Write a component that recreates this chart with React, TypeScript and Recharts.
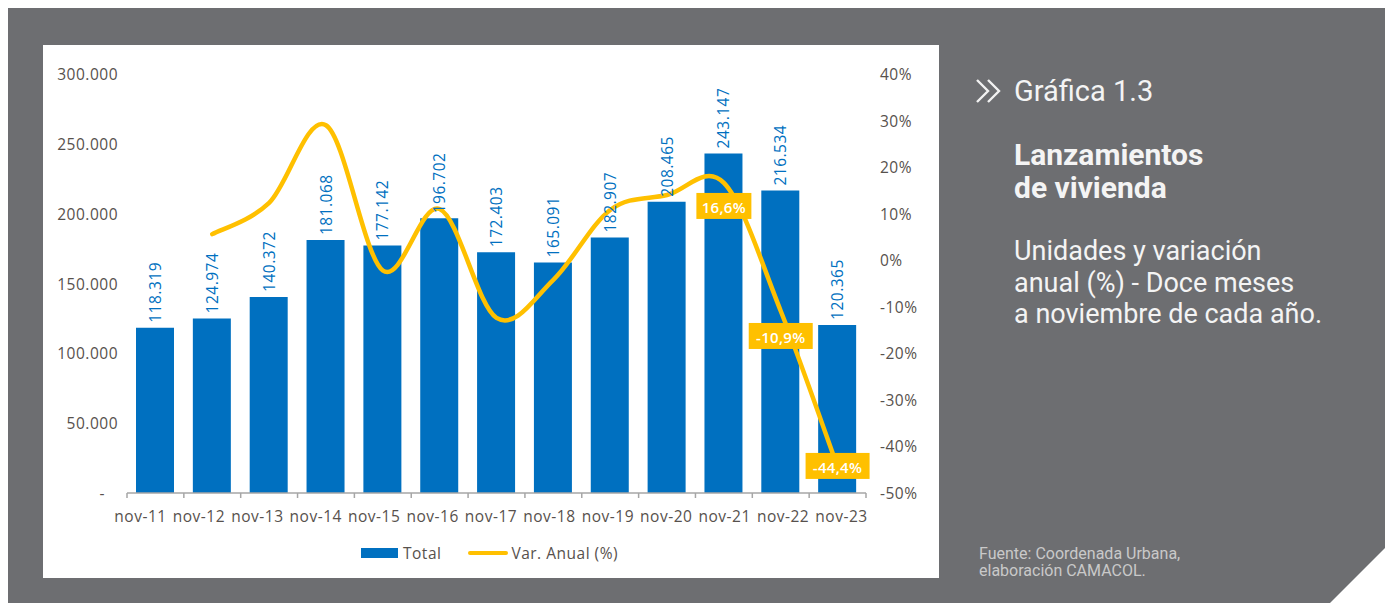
import { ComposedChart, Bar, Line, XAxis, YAxis, LabelList } from 'recharts'

const categories = ['nov-11', 'nov-12', 'nov-13', 'nov-14', 'nov-15', 'nov-16', 'nov-17', 'nov-18', 'nov-19', 'nov-20', 'nov-21', 'nov-22', 'nov-23']
const totals = [118319, 124974, 140372, 181068, 177142, 196702, 172403, 165091, 182907, 208465, 243147, 216534, 120365]
const annualVar = [null, 5.6, 12.3, 29.0, -2.2, 11.0, -12.4, -4.2, 10.8, 14.0, 16.6, -10.9, -44.4]
const unitTicks = [0, 50000, 100000, 150000, 200000, 250000, 300000]
const pctTicks = [-50, -40, -30, -20, -10, 0, 10, 20, 30, 40]
const labelledMonths = ['nov-21', 'nov-22', 'nov-23']

const data = categories.map((month, i) => ({ month, total: totals[i], variation: annualVar[i] }))

const BLUE = '#0070c0'
const GOLD = '#ffc000'
const GREY_BG = '#6d6e71'
const TEXT = '#57514d'
const AXIS = '#a6a6a6'
const FONT = '"Open Sans", "DejaVu Sans", sans-serif'

const CHART_W = 896
const CHART_H = 533
const LEFT_W = 84
const RIGHT_W = 73
const BAND = (CHART_W - LEFT_W - RIGHT_W) / categories.length

const thousands = (v: number) => String(v).replace(/\B(?=(\d{3})+(?!\d))/g, '.')
const pct = (v: number) => `${v.toFixed(1).replace('.', ',')}%`

// where each highlighted % box sits relative to its point
const boxShift: Record<string, number> = { 'nov-21': 23, 'nov-22': 25, 'nov-23': -1 }

// Excel-like smoothed line (Catmull-Rom through the points)
const smooth = (ctx: any) => {
  let pts: [number, number][] = []
  return {
    areaStart() {},
    areaEnd() {},
    lineStart() {
      pts = []
    },
    point(x: number, y: number) {
      pts.push([+x, +y])
    },
    lineEnd() {
      if (!pts.length) return
      ctx.moveTo(pts[0][0], pts[0][1])
      for (let i = 0; i < pts.length - 1; i++) {
        const p0 = pts[Math.max(i - 1, 0)]
        const p1 = pts[i]
        const p2 = pts[i + 1]
        const p3 = pts[Math.min(i + 2, pts.length - 1)]
        ctx.bezierCurveTo(
          p1[0] + (p2[0] - p0[0]) / 6,
          p1[1] + (p2[1] - p0[1]) / 6,
          p2[0] - (p3[0] - p1[0]) / 6,
          p2[1] - (p3[1] - p1[1]) / 6,
          p2[0],
          p2[1],
        )
      }
    },
  }
}

const textStyle = { fontFamily: FONT, fontSize: 15.5, fill: TEXT, letterSpacing: 0.5 }

function LeftTick({ x, y, payload }: any) {
  const zero = payload.value === 0
  return (
    <text x={zero ? x - 13 : x} y={y} textAnchor="end" dominantBaseline="central" style={textStyle}>
      {zero ? '-' : thousands(payload.value)}
    </text>
  )
}

function RightTick({ x, y, payload }: any) {
  return (
    <text x={x} y={y} textAnchor="start" dominantBaseline="central" style={textStyle}>
      {`${payload.value}%`}
    </text>
  )
}

function MonthTick({ x, y, payload, index }: any) {
  const half = BAND / 2
  // the source spreads the month labels a bit wider than the bands
  const lx = x - 14.9 + index * 1.57
  return (
    <g>
      <line x1={x - half} x2={x - half} y1={y} y2={y + 5} stroke={AXIS} strokeWidth={1.5} />
      {index === categories.length - 1 && (
        <line x1={x + half} x2={x + half} y1={y} y2={y + 5} stroke={AXIS} strokeWidth={1.5} />
      )}
      <text x={lx} y={y + 23} textAnchor="middle" dominantBaseline="central" style={textStyle}>
        {payload.value}
      </text>
    </g>
  )
}

function TotalLabel({ x, y, width, value }: any) {
  const cx = x + width / 2
  const ty = y - 5
  return (
    <text
      x={cx}
      y={ty}
      transform={`rotate(-90 ${cx} ${ty})`}
      textAnchor="start"
      dominantBaseline="central"
      style={{ ...textStyle, fontSize: 15.5, fontWeight: 500, fill: BLUE }}
    >
      {thousands(value)}
    </text>
  )
}

function VarLabel({ x, y, value, index }: any) {
  const month = categories[index]
  if (!labelledMonths.includes(month) || value == null) return null
  const txt = pct(value)
  const w = txt.length * 9 + 10
  const cy = y + boxShift[month]
  return (
    <g>
      <rect x={x - w / 2} y={cy - 13} width={w} height={26} fill={GOLD} />
      <text
        x={x}
        y={cy + 1}
        textAnchor="middle"
        dominantBaseline="central"
        style={{ fontFamily: FONT, fontSize: 15, fontWeight: 600, fill: '#ffffff', letterSpacing: 0.3 }}
      >
        {txt}
      </text>
    </g>
  )
}

function Chevrons() {
  return (
    <g stroke="#f2f2f2" strokeWidth={2.4} fill="none" strokeLinejoin="miter">
      <polyline points="969,72 980,83 969,94" />
      <polyline points="980,72 991,83 980,94" />
    </g>
  )
}

export default function App() {
  return (
    <div style={{ position: 'relative', width: 1385, height: 603, marginBottom: -8 }}>
      <svg width={1385} height={603} style={{ position: 'absolute', left: 0, top: 0 }}>
        <polygon points="0,0 1385,0 1385,532 1314,603 0,603" fill={GREY_BG} />
        <Chevrons />
        <g style={{ fontFamily: 'Roboto, sans-serif' }} fill="#f4f4f4">
          <text x={1006} y={93} fontSize={29}>Gráfica 1.3</text>
          <text x={1006} y={157} fontSize={30} fontWeight={700}>Lanzamientos</text>
          <text x={1006} y={190} fontSize={30} fontWeight={700}>de vivienda</text>
          <text x={1006} y={252} fontSize={27}>Unidades y variación</text>
          <text x={1006} y={283.5} fontSize={27}>anual (%) - Doce meses</text>
          <text x={1006} y={315} fontSize={27}>a noviembre de cada año.</text>
          <text x={971} y={551} fontSize={16} fill="#c9c9c9">Fuente: Coordenada Urbana,</text>
          <text x={971} y={568} fontSize={16} fill="#c9c9c9">elaboración CAMACOL.</text>
        </g>
      </svg>

      <div style={{ position: 'absolute', left: 35, top: 37, width: CHART_W, height: CHART_H, background: '#ffffff' }}>
        <ComposedChart
          width={CHART_W}
          height={CHART_H}
          data={data}
          margin={{ top: 29, right: 0, bottom: 45, left: 0 }}
        >
          <XAxis
            dataKey="month"
            interval={0}
            height={40}
            tickSize={0}
            tickMargin={0}
            tickLine={false}
            axisLine={{ stroke: AXIS, strokeWidth: 1.5 }}
            tick={<MonthTick />}
          />
          <YAxis
            yAxisId="units"
            width={LEFT_W}
            domain={[0, 300000]}
            ticks={unitTicks}
            interval={0}
            axisLine={false}
            tickLine={false}
            tickSize={0}
            tickMargin={9}
            tick={<LeftTick />}
          />
          <YAxis
            yAxisId="pct"
            orientation="right"
            width={RIGHT_W}
            domain={[-50, 40]}
            ticks={pctTicks}
            interval={0}
            axisLine={false}
            tickLine={false}
            tickSize={0}
            tickMargin={14}
            tick={<RightTick />}
          />
          <Bar yAxisId="units" dataKey="total" name="Total" fill={BLUE} barSize={38} isAnimationActive={false}>
            <LabelList dataKey="total" content={<TotalLabel />} />
          </Bar>
          <Line
            yAxisId="pct"
            dataKey="variation"
            name="Var. Anual (%)"
            type={smooth as any}
            stroke={GOLD}
            strokeWidth={4.5}
            strokeLinecap="round"
            dot={false}
            activeDot={false}
            isAnimationActive={false}
          >
            <LabelList dataKey="variation" content={<VarLabel />} />
          </Line>
        </ComposedChart>

        <div style={{ position: 'absolute', left: 318, top: 496, height: 24, display: 'flex', alignItems: 'center', fontFamily: FONT, fontSize: 15.5, color: TEXT, letterSpacing: 0.5 }}>
          <span style={{ display: 'inline-block', width: 37, height: 10, background: BLUE, marginRight: 5 }} />
          <span>Total</span>
          <span style={{ display: 'inline-block', width: 40, height: 4, borderRadius: 2, background: GOLD, marginLeft: 27, marginRight: 3 }} />
          <span>Var. Anual (%)</span>
        </div>
      </div>
    </div>
  )
}
